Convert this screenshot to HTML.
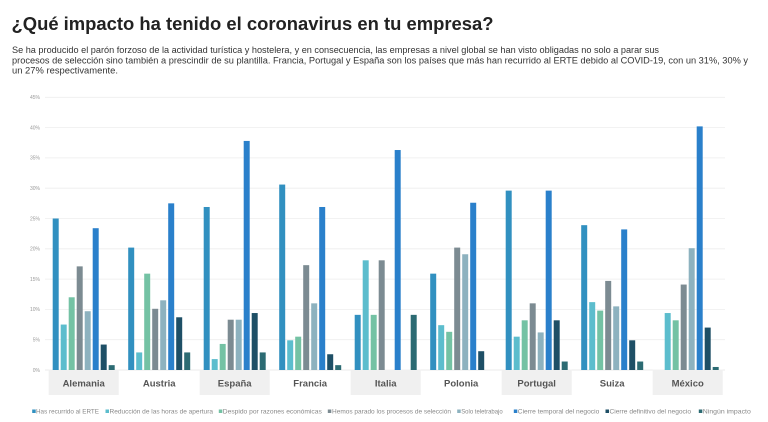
<!DOCTYPE html>
<html>
<head>
<meta charset="utf-8">
<style>
html,body{margin:0;padding:0;background:#fff;}
svg{display:block;}
text{font-family:"Liberation Sans",sans-serif;}
</style>
</head>
<body>
<svg width="768" height="422" viewBox="0 0 768 422" xmlns="http://www.w3.org/2000/svg">
<rect width="768" height="422" fill="#fff"/>
<!-- Title -->
<text x="11.5" y="30" font-size="18.2" font-weight="bold" fill="#222" textLength="482" lengthAdjust="spacingAndGlyphs">¿Qué impacto ha tenido el coronavirus en tu empresa?</text>
<!-- Subtitle -->
<g font-size="9" fill="#333">
<text x="12" y="53" textLength="647" lengthAdjust="spacingAndGlyphs">Se ha producido el parón forzoso de la actividad turística y hostelera, y en consecuencia, las empresas a nivel global se han visto obligadas no solo a parar sus</text>
<text x="12" y="63.3" textLength="736" lengthAdjust="spacingAndGlyphs">procesos de selección sino también a prescindir de su plantilla. Francia, Portugal y España son los países que más han recurrido al ERTE debido al COVID-19, con un 31%, 30% y</text>
<text x="12" y="73.5" textLength="106" lengthAdjust="spacingAndGlyphs">un 27% respectivamente.</text>
</g>
<!-- Gridlines -->
<g stroke="#eeeeee" stroke-width="0.8">
<line x1="45" x2="725" y1="97.3" y2="97.3"/>
<line x1="45" x2="725" y1="127.6" y2="127.6"/>
<line x1="45" x2="725" y1="157.9" y2="157.9"/>
<line x1="45" x2="725" y1="188.2" y2="188.2"/>
<line x1="45" x2="725" y1="218.5" y2="218.5"/>
<line x1="45" x2="725" y1="248.8" y2="248.8"/>
<line x1="45" x2="725" y1="279.1" y2="279.1"/>
<line x1="45" x2="725" y1="309.4" y2="309.4"/>
<line x1="45" x2="725" y1="339.7" y2="339.7"/>
<line x1="45" x2="725" y1="370" y2="370" stroke="#e4e4e4"/>
</g>
<!-- Y labels -->
<g font-size="5" fill="#999" text-anchor="end">
<text x="40" y="99">45%</text>
<text x="40" y="129.4">40%</text>
<text x="40" y="159.7">35%</text>
<text x="40" y="190">30%</text>
<text x="40" y="220.3">25%</text>
<text x="40" y="250.6">20%</text>
<text x="40" y="280.9">15%</text>
<text x="40" y="311.2">10%</text>
<text x="40" y="341.5">5%</text>
<text x="40" y="371.8">0%</text>
</g>
<!-- Bands -->
<g fill="#f0f0f0">
<rect x="48.7" y="369.5" width="70" height="25.5"/>
<rect x="199.7" y="369.5" width="70" height="25.5"/>
<rect x="350.7" y="369.5" width="70" height="25.5"/>
<rect x="501.7" y="369.5" width="70" height="25.5"/>
<rect x="652.7" y="369.5" width="70" height="25.5"/>
</g>
<!-- Bars: Alemania -->
<rect x="52.7" y="218.5" width="6" height="151.5" fill="#3190c0"/>
<rect x="60.7" y="324.55" width="6" height="45.45" fill="#5cbdcd"/>
<rect x="68.7" y="297.28" width="6" height="72.72" fill="#74c2a4"/>
<rect x="76.7" y="266.37" width="6" height="103.63" fill="#7c8b92"/>
<rect x="84.7" y="311.22" width="6" height="58.78" fill="#8db2bf"/>
<rect x="92.7" y="228.2" width="6" height="141.8" fill="#2a80cb"/>
<rect x="100.7" y="344.55" width="6" height="25.45" fill="#1e4f66"/>
<rect x="108.7" y="365.15" width="6" height="4.85" fill="#2c6b73"/>
<!-- Austria -->
<rect x="128.2" y="247.59" width="6" height="122.41" fill="#3190c0"/>
<rect x="136.2" y="352.43" width="6" height="17.57" fill="#5cbdcd"/>
<rect x="144.2" y="273.65" width="6" height="96.35" fill="#74c2a4"/>
<rect x="152.2" y="308.79" width="6" height="61.21" fill="#7c8b92"/>
<rect x="160.2" y="300.31" width="6" height="69.69" fill="#8db2bf"/>
<rect x="168.2" y="203.35" width="6" height="166.65" fill="#2a80cb"/>
<rect x="176.2" y="317.28" width="6" height="52.72" fill="#1e4f66"/>
<rect x="184.2" y="352.43" width="6" height="17.57" fill="#2c6b73"/>
<!-- España -->
<rect x="203.7" y="206.99" width="6" height="163.01" fill="#3190c0"/>
<rect x="211.7" y="359.09" width="6" height="10.91" fill="#5cbdcd"/>
<rect x="219.7" y="343.94" width="6" height="26.06" fill="#74c2a4"/>
<rect x="227.7" y="319.7" width="6" height="50.3" fill="#7c8b92"/>
<rect x="235.7" y="319.7" width="6" height="50.3" fill="#8db2bf"/>
<rect x="243.7" y="140.93" width="6" height="229.07" fill="#2a80cb"/>
<rect x="251.7" y="313.04" width="6" height="56.96" fill="#1e4f66"/>
<rect x="259.7" y="352.43" width="6" height="17.57" fill="#2c6b73"/>
<!-- Francia -->
<rect x="279.2" y="184.56" width="6" height="185.44" fill="#3190c0"/>
<rect x="287.2" y="340.31" width="6" height="29.69" fill="#5cbdcd"/>
<rect x="295.2" y="336.67" width="6" height="33.33" fill="#74c2a4"/>
<rect x="303.2" y="265.16" width="6" height="104.84" fill="#7c8b92"/>
<rect x="311.2" y="303.34" width="6" height="66.66" fill="#8db2bf"/>
<rect x="319.2" y="206.99" width="6" height="163.01" fill="#2a80cb"/>
<rect x="327.2" y="354.24" width="6" height="15.76" fill="#1e4f66"/>
<rect x="335.2" y="365.15" width="6" height="4.85" fill="#2c6b73"/>
<!-- Italia -->
<rect x="354.7" y="314.85" width="6" height="55.15" fill="#3190c0"/>
<rect x="362.7" y="260.31" width="6" height="109.69" fill="#5cbdcd"/>
<rect x="370.7" y="314.85" width="6" height="55.15" fill="#74c2a4"/>
<rect x="378.7" y="260.31" width="6" height="109.69" fill="#7c8b92"/>
<rect x="394.7" y="150.02" width="6" height="219.98" fill="#2a80cb"/>
<rect x="410.7" y="314.85" width="6" height="55.15" fill="#2c6b73"/>
<!-- Polonia -->
<rect x="430.2" y="273.65" width="6" height="96.35" fill="#3190c0"/>
<rect x="438.2" y="325.16" width="6" height="44.84" fill="#5cbdcd"/>
<rect x="446.2" y="331.82" width="6" height="38.18" fill="#74c2a4"/>
<rect x="454.2" y="247.59" width="6" height="122.41" fill="#7c8b92"/>
<rect x="462.2" y="254.25" width="6" height="115.75" fill="#8db2bf"/>
<rect x="470.2" y="202.74" width="6" height="167.26" fill="#2a80cb"/>
<rect x="478.2" y="351.21" width="6" height="18.79" fill="#1e4f66"/>
<!-- Portugal -->
<rect x="505.7" y="190.62" width="6" height="179.38" fill="#3190c0"/>
<rect x="513.7" y="336.67" width="6" height="33.33" fill="#5cbdcd"/>
<rect x="521.7" y="320.31" width="6" height="49.69" fill="#74c2a4"/>
<rect x="529.7" y="303.34" width="6" height="66.66" fill="#7c8b92"/>
<rect x="537.7" y="332.43" width="6" height="37.57" fill="#8db2bf"/>
<rect x="545.7" y="190.62" width="6" height="179.38" fill="#2a80cb"/>
<rect x="553.7" y="320.31" width="6" height="49.69" fill="#1e4f66"/>
<rect x="561.7" y="361.52" width="6" height="8.48" fill="#2c6b73"/>
<!-- Suiza -->
<rect x="581.2" y="225.17" width="6" height="144.83" fill="#3190c0"/>
<rect x="589.2" y="302.13" width="6" height="67.87" fill="#5cbdcd"/>
<rect x="597.2" y="310.61" width="6" height="59.39" fill="#74c2a4"/>
<rect x="605.2" y="280.92" width="6" height="89.08" fill="#7c8b92"/>
<rect x="613.2" y="306.37" width="6" height="63.63" fill="#8db2bf"/>
<rect x="621.2" y="229.41" width="6" height="140.59" fill="#2a80cb"/>
<rect x="629.2" y="340.31" width="6" height="29.69" fill="#1e4f66"/>
<rect x="637.2" y="361.52" width="6" height="8.48" fill="#2c6b73"/>
<!-- México -->
<rect x="664.7" y="313.04" width="6" height="56.96" fill="#5cbdcd"/>
<rect x="672.7" y="320.31" width="6" height="49.69" fill="#74c2a4"/>
<rect x="680.7" y="284.55" width="6" height="85.45" fill="#7c8b92"/>
<rect x="688.7" y="248.19" width="6" height="121.81" fill="#8db2bf"/>
<rect x="696.7" y="126.39" width="6" height="243.61" fill="#2a80cb"/>
<rect x="704.7" y="327.58" width="6" height="42.42" fill="#1e4f66"/>
<rect x="712.7" y="366.97" width="6" height="3.03" fill="#2c6b73"/>
<!-- Category labels -->
<g font-size="9.5" font-weight="bold" fill="#555" text-anchor="middle">
<text x="83.7" y="386.5">Alemania</text>
<text x="159.2" y="386.5">Austria</text>
<text x="234.7" y="386.5">España</text>
<text x="310.2" y="386.5">Francia</text>
<text x="385.7" y="386.5">Italia</text>
<text x="461.2" y="386.5">Polonia</text>
<text x="536.7" y="386.5">Portugal</text>
<text x="612.2" y="386.5">Suiza</text>
<text x="687.7" y="386.5">México</text>
</g>
<!-- Legend -->
<g font-size="6" fill="#888">
<rect x="32.2" y="409.5" width="3.5" height="3.5" fill="#3190c0"/>
<text x="36" y="413.4" textLength="63" lengthAdjust="spacingAndGlyphs">Has recurrido al ERTE</text>
<rect x="105.5" y="409.5" width="3.5" height="3.5" fill="#5cbdcd"/>
<text x="109.5" y="413.4" textLength="103.5" lengthAdjust="spacingAndGlyphs">Reducción de las horas de apertura</text>
<rect x="218.8" y="409.5" width="3.5" height="3.5" fill="#74c2a4"/>
<text x="222.8" y="413.4" textLength="99" lengthAdjust="spacingAndGlyphs">Despido por razones económicas</text>
<rect x="327.8" y="409.5" width="3.5" height="3.5" fill="#7c8b92"/>
<text x="332" y="413.4" textLength="119" lengthAdjust="spacingAndGlyphs">Hemos parado los procesos de selección</text>
<rect x="457.2" y="409.5" width="3.5" height="3.5" fill="#8db2bf"/>
<text x="461.2" y="413.4" textLength="41.5" lengthAdjust="spacingAndGlyphs">Solo teletrabajo</text>
<rect x="513.8" y="409.5" width="3.5" height="3.5" fill="#2a80cb"/>
<text x="517.8" y="413.4" textLength="81.5" lengthAdjust="spacingAndGlyphs">Cierre temporal del negocio</text>
<rect x="605.5" y="409.5" width="3.5" height="3.5" fill="#1e4f66"/>
<text x="609.5" y="413.4" textLength="81.5" lengthAdjust="spacingAndGlyphs">Cierre definitivo del negocio</text>
<rect x="698.8" y="409.5" width="3.5" height="3.5" fill="#2c6b73"/>
<text x="702.8" y="413.4" textLength="48" lengthAdjust="spacingAndGlyphs">Ningún impacto</text>
</g>
</svg>
</body>
</html>
